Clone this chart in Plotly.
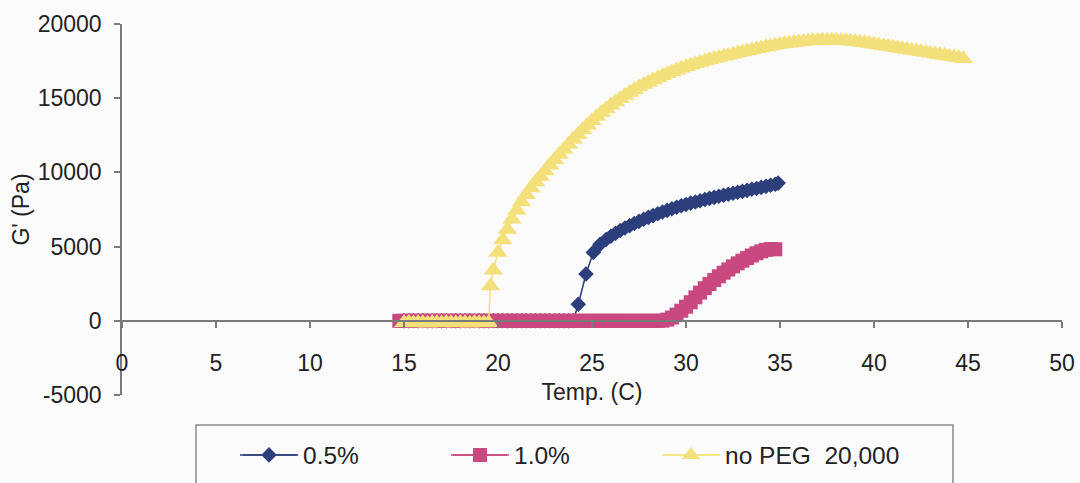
import plotly.graph_objects as go

# ---- temperature sweeps (C) and storage modulus G' (Pa) ----
temp_05 = [
    15.0, 15.25, 15.5, 15.75, 16.0, 16.25, 16.5, 16.75, 17.0, 17.25, 17.5, 17.75,
    18.0, 18.25, 18.5, 18.75, 19.0, 19.25, 19.5, 19.75, 20.0, 20.25, 20.5, 20.75,
    21.0, 21.25, 21.5, 21.75, 22.0, 22.25, 22.5, 22.75, 23.0, 23.25, 23.5, 23.75,
    24.0, 24.27, 24.68, 25.07, 25.43, 25.75,
    26.0, 26.25, 26.5, 26.75, 27.0, 27.25, 27.5, 27.75, 28.0, 28.25, 28.5, 28.75,
    29.0, 29.25, 29.5, 29.75, 30.0, 30.25, 30.5, 30.75, 31.0, 31.25, 31.5, 31.75,
    32.0, 32.25, 32.5, 32.75, 33.0, 33.25, 33.5, 33.75, 34.0, 34.25, 34.5, 34.75,
    34.9,
]
g_05 = [
    0, 0, 0, 0, 0, 0, 0, 0, 0, 0, 0, 0,
    0, 0, 0, 0, 0, 0, 0, 0, 0, 0, 0, 0,
    0, 0, 0, 0, 0, 0, 0, 0, 0, 0, 0, 0,
    0, 1120, 3150, 4610, 5150, 5480,
    5700, 5900, 6080, 6250, 6410, 6560, 6700, 6840, 6970, 7090, 7210, 7330,
    7440, 7550, 7650, 7750, 7840, 7930, 8010, 8090, 8170, 8250, 8320, 8390,
    8460, 8530, 8600, 8660, 8720, 8790, 8860, 8920, 8990, 9060, 9130, 9200,
    9280,
]

temp_10 = [
    14.75, 15.0, 15.25, 15.5, 15.75, 16.0, 16.25, 16.5, 16.75, 17.0, 17.25, 17.5,
    17.75, 18.0, 18.25, 18.5, 18.75, 19.0, 19.25, 19.5, 19.75, 20.0, 20.25, 20.5,
    20.75, 21.0, 21.25, 21.5, 21.75, 22.0, 22.25, 22.5, 22.75, 23.0, 23.25, 23.5,
    23.75, 24.0, 24.25, 24.5, 24.75, 25.0, 25.25, 25.5, 25.75, 26.0, 26.25, 26.5,
    26.75, 27.0, 27.25, 27.5, 27.75, 28.0, 28.25, 28.5, 28.75, 29.0, 29.25, 29.5,
    29.75, 30.0, 30.25, 30.5, 30.75, 31.0, 31.25, 31.5, 31.75, 32.0, 32.25, 32.5,
    32.75, 33.0, 33.25, 33.5, 33.75, 34.0, 34.25, 34.5, 34.75,
]
g_10 = [
    0, 0, 0, 0, 0, 0, 0, 0, 0, 0, 0, 0,
    0, 0, 0, 0, 0, 0, 0, 0, 0, 0, 0, 0,
    0, 0, 0, 0, 0, 0, 0, 0, 0, 0, 0, 0,
    0, 0, 0, 0, 0, 0, 0, 0, 0, 0, 0, 0,
    0, 0, 0, 0, 0, 0, 0, 0, 10, 80, 220, 420,
    680, 950, 1250, 1580, 1900, 2200, 2480, 2750, 3000, 3240, 3460, 3670,
    3870, 4050, 4230, 4400, 4550, 4680, 4780, 4830, 4820,
]

temp_nopeg = [
    15.0, 15.25, 15.5, 15.75, 16.0, 16.25, 16.5, 16.75, 17.0, 17.25, 17.5, 17.75,
    18.0, 18.25, 18.5, 18.75, 19.0, 19.25, 19.5, 19.6, 19.75,
    20.0, 20.25, 20.5, 20.75, 21.0, 21.25, 21.5, 21.75, 22.0, 22.25, 22.5, 22.75,
    23.0, 23.25, 23.5, 23.75, 24.0, 24.25, 24.5, 24.75, 25.0, 25.25, 25.5, 25.75,
    26.0, 26.25, 26.5, 26.75, 27.0, 27.25, 27.5, 27.75, 28.0, 28.25, 28.5, 28.75,
    29.0, 29.25, 29.5, 29.75, 30.0, 30.25, 30.5, 30.75, 31.0, 31.25, 31.5, 31.75,
    32.0, 32.25, 32.5, 32.75, 33.0, 33.25, 33.5, 33.75, 34.0, 34.25, 34.5, 34.75,
    35.0, 35.25, 35.5, 35.75, 36.0, 36.25, 36.5, 36.75, 37.0, 37.25, 37.5, 37.75,
    38.0, 38.25, 38.5, 38.75, 39.0, 39.25, 39.5, 39.75, 40.0, 40.25, 40.5, 40.75,
    41.0, 41.25, 41.5, 41.75, 42.0, 42.25, 42.5, 42.75, 43.0, 43.25, 43.5, 43.75,
    44.0, 44.25, 44.5, 44.75,
]
g_nopeg = [
    -130, -110, -150, -120, -130, -160, -120, -130, -140, -110, -130, -150,
    -120, -130, -160, -120, -130, -140, -130, 2350, 3400,
    4600, 5450, 6150, 6850, 7450, 8000, 8500, 8950, 9350, 9730, 10100, 10480,
    10850, 11200, 11550, 11900, 12230, 12550, 12870, 13180, 13480, 13760, 14030, 14280,
    14520, 14750, 14970, 15180, 15380, 15570, 15750, 15920, 16080, 16230, 16380, 16520,
    16650, 16780, 16900, 17010, 17120, 17220, 17320, 17410, 17500, 17590, 17670, 17750,
    17830, 17900, 17970, 18040, 18110, 18180, 18250, 18320, 18390, 18450, 18510, 18570,
    18620, 18670, 18710, 18750, 18790, 18820, 18850, 18870, 18890, 18900, 18910, 18910,
    18900, 18890, 18870, 18840, 18810, 18770, 18730, 18680, 18630, 18580, 18530, 18480,
    18430, 18380, 18330, 18280, 18230, 18180, 18130, 18080, 18030, 17980, 17930, 17880,
    17830, 17780, 17730, 17660,
]

series_names = ["0.5%", "1.0%", "no PEG  20,000"]
x_ticks = [0, 5, 10, 15, 20, 25, 30, 35, 40, 45, 50]
y_ticks = [-5000, 0, 5000, 10000, 15000, 20000]

# ---- styling ----
FONT = "Liberation Sans, Arial, sans-serif"
TEXT = "#222222"
AXIS = "#7a7a7a"
BLUE = "#2c3f7c"
PINK = "#c8487f"
YELLOW = "#f4e07a"
BG = "#fbfbfc"

W, H = 1080, 483
ML, MR, MT, MB = 122, 18, 24, 88
PW, PH = W - ML - MR, H - MT - MB


def px_x(px):
    return (px - ML) / PW


def px_y(py):
    return (H - MB - py) / PH


fig = go.Figure()

fig.add_trace(go.Scatter(
    x=temp_05, y=g_05, name=series_names[0], mode="lines+markers",
    line=dict(color=BLUE, width=1.5),
    marker=dict(symbol="diamond", size=12, color=BLUE),
    legend="legend",
))
fig.add_trace(go.Scatter(
    x=temp_10, y=g_10, name=series_names[1], mode="lines+markers",
    line=dict(color=PINK, width=1.5),
    marker=dict(symbol="square", size=14, color=PINK),
    legend="legend2",
))
fig.add_trace(go.Scatter(
    x=temp_nopeg, y=g_nopeg, name=series_names[2], mode="lines+markers",
    line=dict(color=YELLOW, width=1.5),
    marker=dict(symbol="triangle-up", size=17, color=YELLOW),
    legend="legend3",
))

# legend frame (runs past the bottom edge of the page)
fig.add_shape(type="rect", xref="paper", yref="paper",
              x0=px_x(196), x1=px_x(953), y0=px_y(520), y1=px_y(425),
              line=dict(color="#8a8a8a", width=1.5), fillcolor="rgba(0,0,0,0)")

# longer legend sample lines
for (a, b), col in zip([(243, 297), (453, 507), (665, 719)], [BLUE, PINK, "#f7e89a"]):
    fig.add_shape(type="line", xref="paper", yref="paper",
                  x0=px_x(a), x1=px_x(b), y0=px_y(455), y1=px_y(455),
                  line=dict(color=col, width=1.5))

leg_common = dict(orientation="h", xanchor="left", yanchor="middle",
                  xref="container", yref="container",
                  bgcolor="rgba(0,0,0,0)", borderwidth=0, itemwidth=58,
                  font=dict(family=FONT, size=24.5, color=TEXT))
LEG_Y = (H - 455) / H
fig.update_layout(
    legend=dict(x=235 / W, y=LEG_Y, **leg_common),
    legend2=dict(x=446 / W, y=LEG_Y, **leg_common),
    legend3=dict(x=657 / W, y=LEG_Y, **leg_common),
)

fig.update_layout(
    width=W, height=H,
    margin=dict(l=ML, r=MR, t=MT, b=MB, pad=0, autoexpand=False),
    paper_bgcolor=BG, plot_bgcolor=BG,
    font=dict(family=FONT, size=23, color=TEXT),
    showlegend=True,
    xaxis=dict(
        range=[0, 50], tickvals=x_ticks, ticktext=[str(v) for v in x_ticks],
        anchor="free", position=0.2, automargin=False,
        showline=True, linecolor=AXIS, linewidth=1.5,
        ticks="outside", ticklen=6, tickcolor=AXIS, tickwidth=1.5,
        ticklabelstandoff=16,
        showgrid=False, zeroline=False,
        title=dict(text="Temp. (C)", standoff=8, font=dict(size=23)),
        tickfont=dict(size=23),
    ),
    yaxis=dict(
        range=[-5000, 20000], tickvals=y_ticks, ticktext=[str(v) for v in y_ticks],
        automargin=False,
        showline=True, linecolor=AXIS, linewidth=1.5,
        ticks="outside", ticklen=6, tickcolor=AXIS, tickwidth=1.5,
        ticklabelstandoff=8,
        showgrid=False, zeroline=False,
        title=dict(text="G' (Pa)", standoff=2, font=dict(size=23)),
        tickfont=dict(size=23),
    ),
)

fig.write_html("out.html")
